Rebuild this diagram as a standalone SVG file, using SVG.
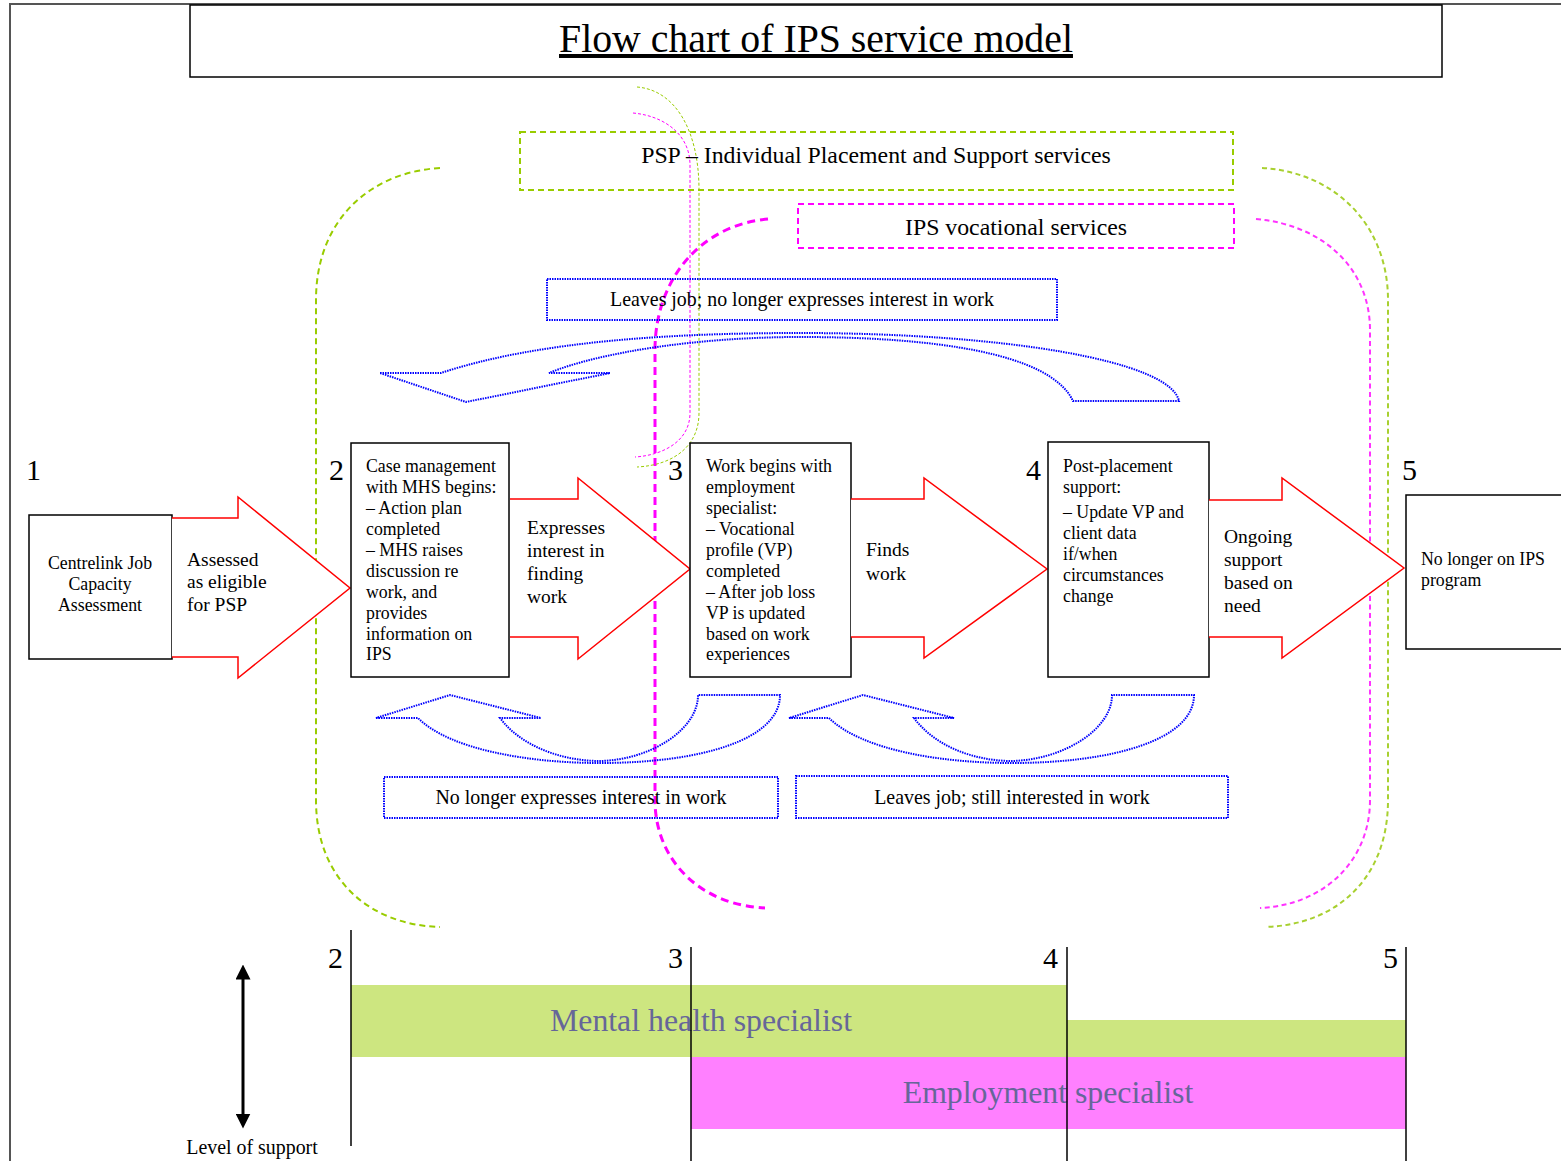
<svg xmlns="http://www.w3.org/2000/svg" width="1561" height="1161" viewBox="0 0 1561 1161">
<defs>
<style>
text{font-family:"Liberation Serif","Times New Roman",serif;fill:#000}
.box{fill:#fff;stroke:#000;stroke-width:1.5}
.red{fill:#fff;stroke:#ff0000;stroke-width:1.5;stroke-linejoin:miter}
.blue{fill:none;stroke:#0000ff;stroke-width:2;stroke-dasharray:1.5 1}
.g{fill:none;stroke:#99cc00;stroke-width:2;stroke-dasharray:6 4}
.gr{fill:none;stroke:#a8d030;stroke-width:2;stroke-dasharray:5 3.5}
.m{fill:none;stroke:#ff00ff;stroke-width:3;stroke-dasharray:8 5}
.mr{fill:none;stroke:#ff33ff;stroke-width:2;stroke-dasharray:5 3.5}
.gt{fill:none;stroke:#99cc00;stroke-width:1;stroke-dasharray:3 2}
.mt{fill:none;stroke:#ff00ff;stroke-width:1;stroke-dasharray:3 2}
.t16{font-size:17.8px}
.t19{font-size:19.5px}
.lbl{font-size:19.9px}
.num{font-size:30px}
.bar{font-size:31.8px;fill:#666699}
</style>
<marker id="ah" viewBox="0 0 10 10" refX="5" refY="5" markerWidth="5" markerHeight="5" orient="auto-start-reverse" markerUnits="strokeWidth">
<path d="M0,0 L10,5 L0,10 Z" fill="#000"/>
</marker>
</defs>
<rect width="1561" height="1161" fill="#fff"/>
<!-- frame -->
<path d="M10,1161 L10,4 L1561,4" fill="none" stroke="#555" stroke-width="2"/>
<g id="title">
<rect x="190" y="5" width="1252" height="72" fill="#fff" stroke="#000" stroke-width="1.5"/>
<text x="816" y="52" font-size="39.8" text-anchor="middle" text-decoration="underline">Flow chart of IPS service model</text>
</g>
<!-- brackets -->
<g id="brackets">
<path class="g" d="M440,168 C370,172 316,220 316,300 L316,800 C316,880 370,925 440,927"/>
<path class="gr" d="M1262,168 C1335,172 1388,225 1388,300 L1388,800 C1388,880 1335,925 1265,927"/>
<path class="m" d="M768,219 C700,225 655,280 655,350 L655,800 C655,860 700,905 765,908"/>
<path class="mr" d="M1256,219 C1325,225 1370,270 1370,330 L1370,800 C1370,860 1325,905 1260,908"/>
<path class="gt" d="M637,87 C675,90 699,130 699,190 L699,413 C699,445 675,465 637,467"/>
<path class="mt" d="M633,113 C665,116 690,135 690,165 L690,413 C690,440 665,455 635,457"/>
</g>
<g id="psp">
<rect x="520" y="132" width="713" height="58" fill="none" stroke="#99cc00" stroke-width="2" stroke-dasharray="6 4"/>
<text x="876" y="163" font-size="23.8" text-anchor="middle">PSP – Individual Placement and Support services</text>
</g>
<g id="ipsvoc">
<rect x="798" y="204" width="436" height="44" fill="none" stroke="#ff00ff" stroke-width="2" stroke-dasharray="6 4"/>
<text x="1016" y="235" font-size="23.8" text-anchor="middle">IPS vocational services</text>
</g>
<g id="leaves-no-interest">
<rect x="547" y="279" width="510" height="41" class="blue"/>
<text x="802" y="306" class="lbl" text-anchor="middle">Leaves job; no longer expresses interest in work</text>
</g>
<g id="connectors">
<path class="blue" d="M380,373 L441,373 C540,340 680,333 800,333 C1000,333 1170,360 1179,401 L1073,401 C1050,352 930,337 800,337 C700,337 600,352 549,373 L610,373 L466,402 Z"/>
<path class="blue" d="M376,718 L418,718 C450,750 530,763 600,763 C700,763 780,740 780,695 L698,695 C698,730 650,760 600,761 C560,761 520,745 500,718 L541,718 L450,695 Z"/>
<path class="blue" d="M789,718 L829,718 C862,750 940,763 1012,763 C1112,763 1194,740 1194,695 L1112,695 C1112,730 1062,760 1012,761 C972,761 934,745 914,718 L954,718 L863,695 Z"/>
</g>
<g id="no-longer-interest">
<rect x="384" y="777" width="394" height="41" class="blue"/>
<text x="581" y="804" class="lbl" text-anchor="middle">No longer expresses interest in work</text>
</g>
<g id="leaves-still">
<rect x="796" y="776" width="432" height="42" class="blue"/>
<text x="1012" y="804" class="lbl" text-anchor="middle">Leaves job; still interested in work</text>
</g>
<!-- stage numbers -->
<g id="numbers">
<text x="26" y="480" class="num">1</text>
<text x="329" y="480" class="num">2</text>
<text x="668" y="480" class="num">3</text>
<text x="1026" y="480" class="num">4</text>
<text x="1402" y="480" class="num">5</text>
</g>
<g id="n1">
<rect x="29" y="515" width="143" height="144" class="box"/>
<text x="100" y="569" class="t16" text-anchor="middle">Centrelink Job</text>
<text x="100" y="590" class="t16" text-anchor="middle">Capacity</text>
<text x="100" y="611" class="t16" text-anchor="middle">Assessment</text>
</g>
<g id="a1">
<path class="red" d="M172,518 L238,518 L238,497 L350,588 L238,678 L238,657 L172,657"/>
<text x="187" y="566" class="t19">Assessed</text>
<text x="187" y="588" class="t19">as eligible</text>
<text x="187" y="611" class="t19">for PSP</text>
</g>
<g id="n2">
<rect x="351" y="443" width="158" height="234" class="box"/>
<text class="t16"><tspan x="366" y="472">Case management</tspan><tspan x="366" y="493">with MHS begins:</tspan><tspan x="366" y="514">– Action plan</tspan><tspan x="366" y="535">completed</tspan><tspan x="366" y="556">– MHS raises</tspan><tspan x="366" y="577">discussion re</tspan><tspan x="366" y="598">work, and</tspan><tspan x="366" y="619">provides</tspan><tspan x="366" y="640">information on</tspan><tspan x="366" y="660">IPS</tspan></text>
</g>
<g id="a2">
<path class="red" d="M510,499 L578,499 L578,478 L690,569 L578,659 L578,637 L510,637"/>
<text class="t19"><tspan x="527" y="534">Expresses</tspan><tspan x="527" y="557">interest in</tspan><tspan x="527" y="580">finding</tspan><tspan x="527" y="603">work</tspan></text>
</g>
<g id="n3">
<rect x="690" y="443" width="161" height="234" class="box"/>
<text class="t16"><tspan x="706" y="472">Work begins with</tspan><tspan x="706" y="493">employment</tspan><tspan x="706" y="514">specialist:</tspan><tspan x="706" y="535">– Vocational</tspan><tspan x="706" y="556">profile (VP)</tspan><tspan x="706" y="577">completed</tspan><tspan x="706" y="598">– After job loss</tspan><tspan x="706" y="619">VP is updated</tspan><tspan x="706" y="640">based on work</tspan><tspan x="706" y="660">experiences</tspan></text>
</g>
<g id="a3">
<path class="red" d="M851,499 L924,499 L924,478 L1047,569 L924,658 L924,637 L851,637"/>
<text class="t19"><tspan x="866" y="556">Finds</tspan><tspan x="866" y="580">work</tspan></text>
</g>
<g id="n4">
<rect x="1048" y="442" width="161" height="235" class="box"/>
<text class="t16"><tspan x="1063" y="472">Post-placement</tspan><tspan x="1063" y="493">support:</tspan><tspan x="1063" y="518">– Update VP and</tspan><tspan x="1063" y="539">client data</tspan><tspan x="1063" y="560">if/when</tspan><tspan x="1063" y="581">circumstances</tspan><tspan x="1063" y="602">change</tspan></text>
</g>
<g id="a4">
<path class="red" d="M1209,500 L1282,500 L1282,478 L1404,568 L1282,658 L1282,637 L1209,637"/>
<text class="t19"><tspan x="1224" y="543">Ongoing</tspan><tspan x="1224" y="566">support</tspan><tspan x="1224" y="589">based on</tspan><tspan x="1224" y="612">need</tspan></text>
</g>
<g id="n5">
<rect x="1406" y="495" width="160" height="154" class="box"/>
<text class="t16"><tspan x="1421" y="565">No longer on IPS</tspan><tspan x="1421" y="586">program</tspan></text>
</g>
<!-- level of support chart -->
<g id="support-chart">
<rect x="351" y="985" width="716" height="72" fill="#cde680"/>
<rect x="1067" y="1020" width="339" height="37" fill="#cde680"/>
<rect x="691" y="1057" width="715" height="72" fill="#ff80ff"/>
<text x="701" y="1031" class="bar" text-anchor="middle">Mental health specialist</text>
<text x="1048" y="1103" class="bar" text-anchor="middle">Employment specialist</text>
<g stroke="#000" stroke-width="1.5">
<line x1="351" y1="930" x2="351" y2="1146"/>
<line x1="691" y1="947" x2="691" y2="1161"/>
<line x1="1067" y1="947" x2="1067" y2="1161"/>
<line x1="1406" y1="947" x2="1406" y2="1161"/>
</g>
<text x="328" y="968" class="num">2</text>
<text x="668" y="968" class="num">3</text>
<text x="1043" y="968" class="num">4</text>
<text x="1383" y="968" class="num">5</text>
<line x1="243" y1="972" x2="243" y2="1121" stroke="#000" stroke-width="3" marker-start="url(#ah)" marker-end="url(#ah)"/>
<text x="252" y="1154" class="lbl" text-anchor="middle">Level of support</text>
</g>
</svg>
